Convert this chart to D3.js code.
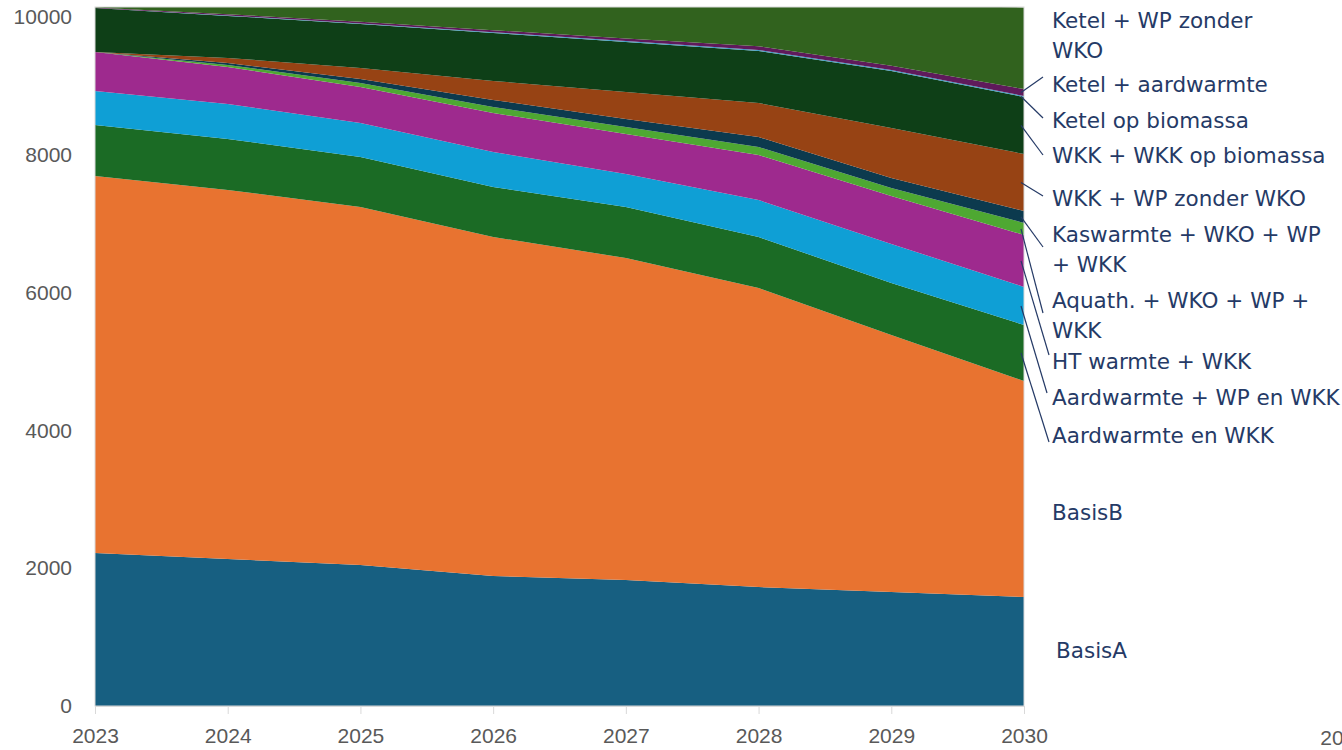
<!DOCTYPE html>
<html>
<head>
<meta charset="utf-8">
<script src="https://cdn.jsdelivr.net/npm/d3@7"></script>
<style>
  html, body { margin: 0; padding: 0; background: #ffffff; }
  svg { display: block; }
</style>
</head>
<body>
<svg id="chart" width="1342" height="750"></svg>
<script>
// ---- data ----
const years = [2023, 2024, 2025, 2026, 2027, 2028, 2029, 2030];
const yTicks = [0, 2000, 4000, 6000, 8000, 10000];
const seriesNames = [
  "BasisA", "BasisB", "Aardwarmte en WKK", "Aardwarmte + WP en WKK", "HT warmte + WKK",
  "Aquath. + WKO + WP + WKK", "Kaswarmte + WKO + WP + WKK", "WKK + WP zonder WKO",
  "WKK + WKK op biomassa", "Ketel op biomassa", "Ketel + aardwarmte", "Ketel + WP zonder WKO"
];
const basisA        = [2221, 2134, 2046, 1887, 1829, 1727, 1655, 1582];
const basisB        = [5472, 5356, 5196, 4920, 4673, 4340, 3730, 3135];
const aardWKK       = [740, 740, 726, 726, 740, 740, 755, 813];
const aardWPWKK     = [493, 508, 493, 508, 479, 537, 566, 552];
const htWKK         = [566, 537, 523, 566, 581, 653, 697, 755];
const aquath        = [0, 29, 58, 87, 102, 116, 116, 174];
const kaswarmte     = [0, 29, 58, 102, 116, 145, 145, 174];
const wkkWP         = [0, 73, 160, 276, 392, 493, 726, 827];
const wkkBio        = [639, 610, 639, 697, 726, 755, 827, 827];
const ketelBio      = [0, 5, 8, 10, 14, 15, 15, 15];
const ketelAard     = [8, 20, 25, 30, 35, 55, 60, 100];
const ketelWP       = [20, 110, 225, 355, 470, 575, 880, 1185];
const seriesValues = [basisA, basisB, aardWKK, aardWPWKK, htWKK, aquath, kaswarmte,
                      wkkWP, wkkBio, ketelBio, ketelAard, ketelWP];
const colors = ["#175f81", "#e87330", "#1b6b25", "#0f9fd5", "#9e2a8e", "#4ea832",
                "#0c3a4e", "#974314", "#0e3f17", "#3d9cc4", "#5f1a5b", "#31621e"];

// label layout (annotation text lines, baseline y, leader outer end)
const labelLines = [
  ["BasisA"], ["BasisB"], ["Aardwarmte en WKK"], ["Aardwarmte + WP en WKK"], ["HT warmte + WKK"],
  ["Aquath. + WKO + WP +", "WKK"], ["Kaswarmte + WKO + WP", "+ WKK"], ["WKK + WP zonder WKO"],
  ["WKK + WKK op biomassa"], ["Ketel op biomassa"], ["Ketel + aardwarmte"], ["Ketel + WP zonder", "WKO"]
];
const labelBaseline = [658, 520, 443, 405, 369, 308, 242, 206, 163, 128, 92, 28];
const labelX =        [1056, 1052, 1052, 1052, 1052, 1052, 1052, 1052, 1052, 1052, 1052, 1052];
const leaderEnd = [null, null, [1049, 442], [1047, 393], [1049, 355], [1043, 313], [1043, 247],
                   [1043, 196], [1043, 155], [1043, 118], [1043, 77], null];

// ---- chart ----
const svg = d3.select("#chart");
const pLeft = 95, pRight = 1024, pTop = 7, pBottom = 706;

const x = d3.scaleLinear().domain([2023, 2030]).range([pLeft, pRight]);
const y = d3.scaleLinear().domain([0, 10000]).range([pBottom, 17]);

const table = years.map((yr, i) => {
  const row = { year: yr };
  seriesNames.forEach((n, k) => row[n] = seriesValues[k][i]);
  return row;
});
const stacked = d3.stack().keys(seriesNames)(table);

svg.append("defs").append("clipPath").attr("id", "plotClip")
  .append("rect").attr("x", pLeft).attr("y", pTop).attr("width", pRight - pLeft).attr("height", pBottom - pTop);

const area = d3.area()
  .x(d => x(d.data.year))
  .y0(d => y(d[0]))
  .y1(d => y(d[1]));

svg.append("g").attr("clip-path", "url(#plotClip)")
  .selectAll("path").data(stacked).join("path")
  .attr("d", area)
  .attr("fill", (d, i) => colors[i]);

// plot border
svg.append("rect").attr("x", pLeft).attr("y", pTop).attr("width", pRight - pLeft).attr("height", pBottom - pTop)
  .attr("fill", "none").attr("stroke", "#d9d9d9").attr("stroke-width", 1);

// x axis
const xAxis = svg.append("g").attr("transform", `translate(0,${pBottom})`)
  .call(d3.axisBottom(x).tickValues(years).tickFormat(d3.format("d")).tickSize(8).tickPadding(14));
xAxis.select(".domain").attr("stroke", "#d9d9d9");
xAxis.selectAll(".tick line").attr("stroke", "#d9d9d9");
xAxis.selectAll("text").attr("fill", "#595959").style("font-family", "'Liberation Sans', Arial, sans-serif").style("font-size", "21px");

// extra cut-off label at right
svg.append("text")
  .attr("x", x(2030) + (x(2030) - x(2023)) * 0.344)
  .attr("y", 745)
  .attr("text-anchor", "middle")
  .attr("fill", "#595959")
  .style("font-family", "'Liberation Sans', Arial, sans-serif").style("font-size", "21px")
  .text("2031");

// y axis labels
const yAxis = svg.append("g").attr("transform", `translate(${pLeft},0)`)
  .call(d3.axisLeft(y).tickValues(yTicks).tickFormat(d3.format("d")).tickSize(0).tickPadding(23));
yAxis.select(".domain").remove();
yAxis.selectAll("text").attr("fill", "#595959").style("font-family", "'Liberation Sans', Arial, sans-serif").style("font-size", "21px");

// labels & leaders
const last = years.length - 1;
const lab = svg.append("g");
seriesNames.forEach((n, i) => {
  const t = lab.append("text")
    .attr("x", labelX[i]).attr("y", labelBaseline[i])
    .attr("fill", "#253a66")
    .style("font-family", "'DejaVu Sans', Verdana, sans-serif").style("font-size", "21.5px");
  labelLines[i].forEach((ln, j) => {
    t.append("tspan").attr("x", labelX[i]).attr("y", labelBaseline[i] + j * 30).text(ln);
  });
  if (leaderEnd[i]) {
    const s = stacked[i][last];
    lab.append("line")
      .attr("x1", leaderEnd[i][0]).attr("y1", leaderEnd[i][1])
      .attr("x2", x(2030) - 3).attr("y2", y((s[0] + s[1]) / 2))
      .attr("stroke", "#253a66").attr("stroke-width", 1.2);
  }
});
</script>
</body>
</html>
